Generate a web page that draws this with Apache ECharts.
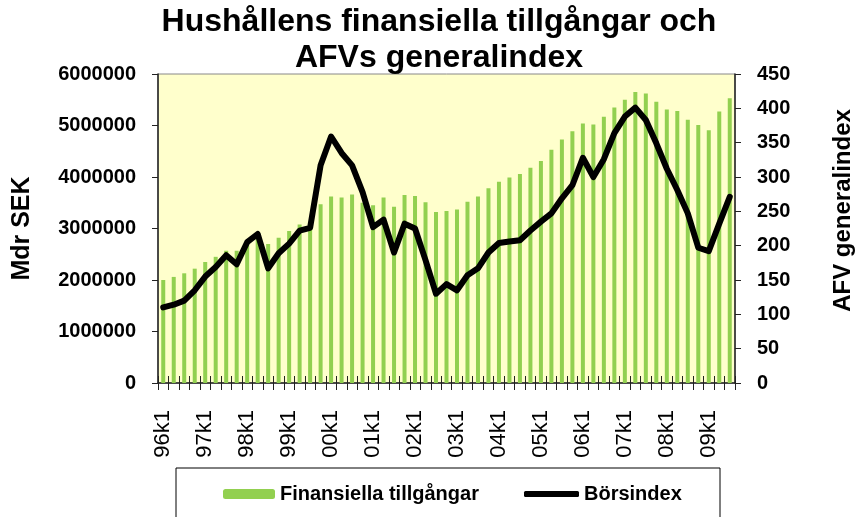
<!DOCTYPE html>
<html>
<head>
<meta charset="utf-8">
<script src="https://cdn.jsdelivr.net/npm/echarts@6/dist/echarts.min.js"></script>
<style>
  html, body { margin: 0; padding: 0; background: #fff; }
  #chart { width: 857px; height: 517px; }
</style>
</head>
<body>
<div id="chart"></div>
<script>
  // kvartal 96k1 - 09k3
  const years = ['96', '97', '98', '99', '00', '01', '02', '03', '04', '05', '06', '07', '08', '09']
  const quarterCount = 55
  const categories = []
  years.forEach(y => {
    for (let q = 1; q <= 4; q++) {
      if (categories.length < quarterCount) categories.push(y + 'k' + q)
    }
  })

  // Finansiella tillgångar, Mdr SEK
  const assets = [
    2000000, 2060000, 2130000, 2220000, 2350000, 2450000, 2570000, 2570000,
    2740000, 2870000, 2700000, 2820000, 2950000, 3080000, 3100000, 3470000,
    3620000, 3600000, 3660000, 3500000, 3450000, 3600000, 3420000, 3650000,
    3630000, 3510000, 3320000, 3340000, 3370000, 3520000, 3620000, 3780000,
    3910000, 3990000, 4060000, 4180000, 4310000, 4530000, 4730000, 4890000,
    5040000, 5020000, 5170000, 5350000, 5500000, 5650000, 5620000, 5460000,
    5310000, 5280000, 5110000, 5010000, 4910000, 5270000, 5530000
  ]

  // AFVs generalindex
  const stockIndex = [
    110, 114, 120, 135, 155, 169, 186, 173,
    205, 217, 167, 189, 203, 222, 226, 317,
    359, 335, 317, 278, 227, 238, 190, 232,
    225, 179, 130, 144, 135, 157, 167, 190,
    204, 206, 208, 222, 235, 247, 269, 288,
    328, 300, 326, 364, 388, 401, 383, 349,
    312, 281, 247, 197, 192, 232, 271
  ]

  const leftTicks = { min: 0, max: 6000000, interval: 1000000 }
  const rightTicks = { min: 0, max: 450, interval: 50 }

  const font = "'Liberation Sans', Arial, sans-serif"
  const axisColor = '#222'

  const chart = echarts.init(document.getElementById('chart'), null, { renderer: 'canvas' })

  const legendText = { fontFamily: font, fontWeight: 'bold', fontSize: 20, color: '#000' }

  const option = {
    animation: false,
    backgroundColor: '#fff',
    title: {
      text: 'Hushållens finansiella tillgångar och\nAFVs generalindex',
      left: 439,
      top: 4,
      padding: 0,
      textAlign: 'center',
      textStyle: {
        fontFamily: font,
        fontWeight: 'bold',
        fontSize: 32,
        lineHeight: 36,
        color: '#000'
      }
    },
    grid: {
      left: 158,
      right: 122,
      top: 74,
      bottom: 134,
      outerBoundsMode: 'none',
      show: true,
      backgroundColor: '#FFFFCC',
      borderColor: '#888',
      borderWidth: 1
    },
    graphic: [
      {
        type: 'rect',
        shape: { x: 176, y: 468, width: 544, height: 60 },
        style: { fill: '#fff', stroke: '#000', lineWidth: 1 },
        z: -1
      }
    ],
    legend: [
      {
        data: ['Finansiella tillgångar'],
        left: 223,
        top: 484,
        padding: 0,
        itemWidth: 52,
        itemHeight: 10,
        textStyle: legendText
      },
      {
        data: [{ name: 'Börsindex', icon: 'roundRect' }],
        left: 524,
        top: 484,
        padding: 0,
        itemWidth: 55,
        itemHeight: 6,
        itemStyle: { color: '#000' },
        textStyle: legendText
      }
    ],
    xAxis: [
      {
        type: 'category',
        data: categories,
        boundaryGap: true,
        axisLine: { lineStyle: { color: axisColor, width: 1.5 } },
        axisTick: { show: true, interval: 0, length: 7, lineStyle: { color: axisColor } },
        axisLabel: {
          interval: 3,
          rotate: 90,
          margin: 27,
          fontFamily: font,
          fontSize: 22,
          color: '#000'
        },
        splitLine: { show: false }
      },
      {
        // inre tickmarkeringar (korsande)
        type: 'category',
        data: categories,
        position: 'bottom',
        boundaryGap: true,
        axisLine: { show: false },
        axisTick: { show: true, inside: true, interval: 0, length: 7, lineStyle: { color: axisColor } },
        axisLabel: { show: false },
        splitLine: { show: false }
      }
    ],
    yAxis: [
      {
        type: 'value',
        min: leftTicks.min,
        max: leftTicks.max,
        interval: leftTicks.interval,
        name: 'Mdr SEK',
        nameLocation: 'middle',
        nameRotate: 90,
        nameGap: 123,
        nameTextStyle: { fontFamily: font, fontWeight: 'bold', fontSize: 25, color: '#000' },
        axisLine: { show: true, lineStyle: { color: axisColor, width: 1.5 } },
        axisTick: { show: true, length: 6, lineStyle: { color: axisColor } },
        axisLabel: {
          margin: 22,
          formatter: v => String(v),
          fontFamily: font,
          fontWeight: 'bold',
          fontSize: 20,
          color: '#000'
        },
        splitLine: { show: false }
      },
      {
        type: 'value',
        position: 'right',
        min: rightTicks.min,
        max: rightTicks.max,
        interval: rightTicks.interval,
        name: 'AFV generalindex',
        nameLocation: 'middle',
        nameRotate: 90,
        nameGap: 96,
        nameTextStyle: {
          fontFamily: font, fontWeight: 'bold', fontSize: 24, color: '#000',
          padding: [0, 0, 0, 36]
        },
        axisLine: { show: true, lineStyle: { color: axisColor, width: 1.5 } },
        axisTick: { show: true, length: 6, lineStyle: { color: axisColor } },
        axisLabel: {
          margin: 22,
          formatter: v => String(v),
          fontFamily: font,
          fontWeight: 'bold',
          fontSize: 20,
          color: '#000'
        },
        splitLine: { show: false }
      }
    ],
    series: [
      {
        name: 'Finansiella tillgångar',
        type: 'bar',
        yAxisIndex: 0,
        data: assets,
        barWidth: 4,
        itemStyle: { color: '#92D050' }
      },
      {
        name: 'Börsindex',
        type: 'line',
        yAxisIndex: 1,
        data: stockIndex,
        symbol: 'none',
        lineStyle: { color: '#000', width: 6, join: 'round', cap: 'round' },
        itemStyle: { color: '#000' },
        z: 5
      }
    ]
  }

  chart.setOption(option)
</script>
</body>
</html>
